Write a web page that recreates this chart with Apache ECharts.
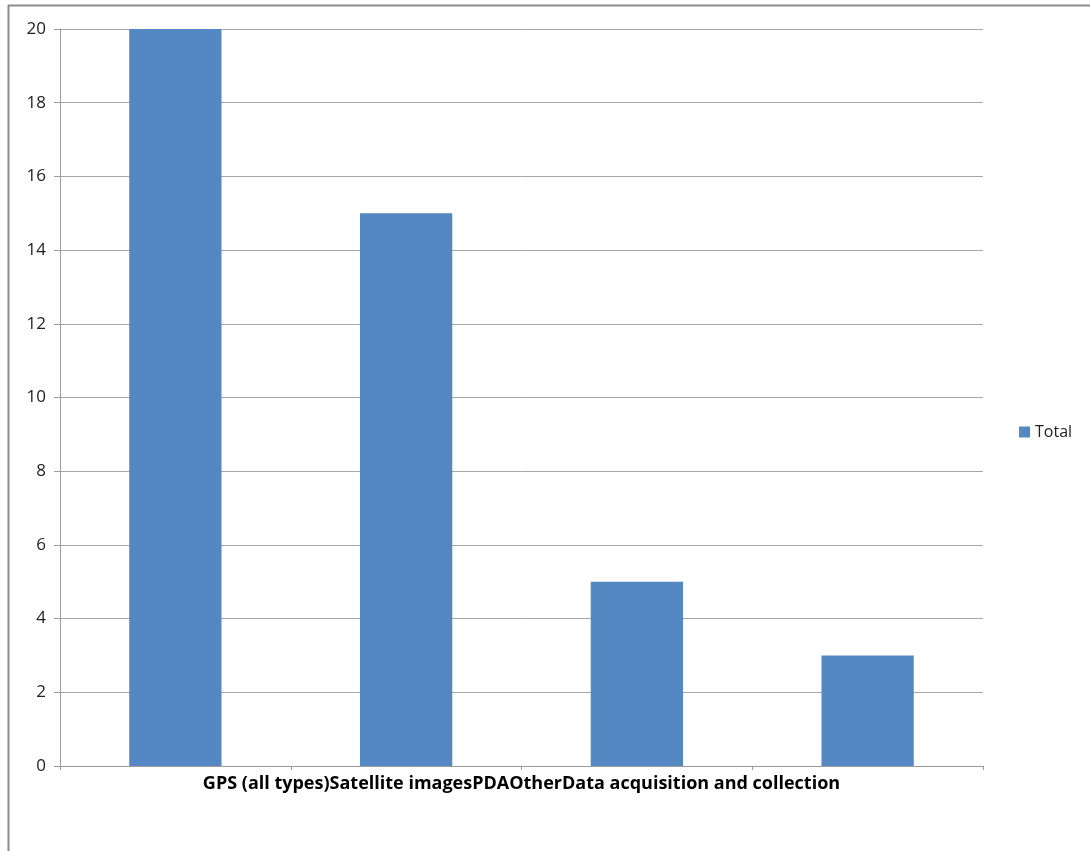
<!DOCTYPE html>
<html>
<head>
<meta charset="utf-8">
<script src="https://cdn.jsdelivr.net/npm/echarts@6/dist/echarts.min.js"></script>
<style>
  html, body { margin: 0; padding: 0; background: #fff; }
  #chart { width: 1090px; height: 851px; }
</style>
</head>
<body>
<div id="chart"></div>
<script>
// data
var categories = ['GPS (all types)', 'Satellite images', 'PDA', 'Other']
var groupName = 'Data acquisition and collection'
var totals = [20, 15, 5, 3]
var seriesName = 'Total'

var chart = echarts.init(document.getElementById('chart'))
var option = {
  animation: false,
  textStyle: { fontFamily: 'Open Sans' },
  graphic: [
    // frame of the chart area (only top and left edges show)
    { type: 'line', shape: { x1: 8, y1: 5.5, x2: 1090, y2: 5.5 }, style: { stroke: '#8c8c8c', lineWidth: 2 } },
    { type: 'line', shape: { x1: 8.5, y1: 5, x2: 8.5, y2: 851 }, style: { stroke: '#8c8c8c', lineWidth: 2 } }
  ],
  legend: {
    data: [seriesName],
    left: 1014,
    top: 419,
    icon: 'rect',
    itemWidth: 11,
    itemHeight: 11,
    itemGap: 6,
    textStyle: { fontSize: 16, color: '#222' }
  },
  grid: { left: 60, right: 107, top: 29, bottom: 85 },
  xAxis: {
    type: 'category',
    data: categories,
    name: categories.join('') + groupName,
    nameLocation: 'middle',
    nameGap: 9,
    nameTextStyle: { fontSize: 18, fontWeight: 'bold', color: '#000' },
    axisLine: { lineStyle: { color: '#9a9a9a' } },
    axisTick: { show: true, length: 4, lineStyle: { color: '#9a9a9a' } },
    axisLabel: { show: false }
  },
  yAxis: {
    type: 'value',
    min: 0,
    max: 20,
    interval: 2,
    axisLine: { show: true, lineStyle: { color: '#9a9a9a' } },
    axisTick: { show: true, length: 6, lineStyle: { color: '#9a9a9a' } },
    axisLabel: { fontSize: 17, color: '#222', margin: 14 },
    splitLine: { lineStyle: { color: '#a6a6a6' } }
  },
  series: [
    {
      name: seriesName,
      type: 'bar',
      data: totals,
      barCategoryGap: '60%',
      itemStyle: { color: '#5388c2' }
    }
  ]
}
chart.setOption(option)
</script>
</body>
</html>
